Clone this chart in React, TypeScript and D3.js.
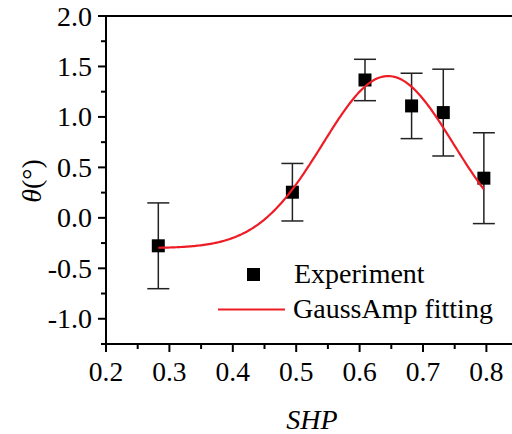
import React from "react";
import * as d3 from "d3";

const shp = [0.2825, 0.494, 0.6085, 0.682, 0.732, 0.796];
const theta = [-0.277, 0.254, 1.366, 1.109, 1.043, 0.393];
const errs = [0.425, 0.285, 0.205, 0.324, 0.43, 0.45];

// GaussAmp fit parameters: y = y0 + A*exp(-(x-xc)^2/(2w^2))
const fitY0 = -0.3;
const fitA = 1.705;
const fitXc = 0.645;
const fitW = 0.103;
const fitRange = [0.2825, 0.796];

const xTicks = [0.2, 0.3, 0.4, 0.5, 0.6, 0.7, 0.8];
const yTicks = [-1.0, -0.5, 0.0, 0.5, 1.0, 1.5, 2.0];
const xMinor = [0.25, 0.35, 0.45, 0.55, 0.65, 0.75, 0.85];
const yMinor = [-1.25, -0.75, -0.25, 0.25, 0.75, 1.25, 1.75];

const W = 512;
const H = 434;
const left = 106;
const top = 16;
const bottom = 344;

const FONT = "Liberation Serif, Times New Roman, Times, serif";

export default function App() {
  const x = d3.scaleLinear().domain([0.2, 0.85]).range([left, left + 6.5 * 63.4]);
  const y = d3.scaleLinear().domain([-1.25, 2.0]).range([bottom, top]);

  const n = 200;
  const fitPts: [number, number][] = d3.range(n + 1).map((i) => {
    const xv = fitRange[0] + ((fitRange[1] - fitRange[0]) * i) / n;
    const yv = fitY0 + fitA * Math.exp(-((xv - fitXc) ** 2) / (2 * fitW * fitW));
    return [xv, yv];
  });
  const line = d3
    .line<[number, number]>()
    .x((d) => x(d[0]))
    .y((d) => y(d[1]));

  const right = x(0.85);
  const ts = { fontFamily: FONT };

  return (
    <svg
      width={W}
      height={H}
      style={{ position: "absolute", left: 0, top: 0, background: "#fff" }}
    >
      <rect x={0} y={0} width={W} height={H} fill="#fff" />
      {/* axes */}
      <line x1={left} x2={right} y1={top} y2={top} stroke="#000" strokeWidth={2} />
      <line x1={right} x2={right} y1={top} y2={bottom} stroke="#000" strokeWidth={2} />
      <line x1={left - 1} x2={right} y1={bottom} y2={bottom} stroke="#000" strokeWidth={2} />
      <line x1={left} x2={left} y1={top - 1} y2={bottom + 1} stroke="#000" strokeWidth={2} />

      {xTicks.map((t) => (
        <g key={"xt" + t}>
          <line x1={x(t)} x2={x(t)} y1={bottom} y2={bottom + 8} stroke="#000" strokeWidth={2} />
          <text x={x(t)} y={381} fontSize={27.5} textAnchor="middle" fill="#000" style={ts}>
            {t.toFixed(1)}
          </text>
        </g>
      ))}
      {xMinor.map((t) => (
        <line key={"xm" + t} x1={x(t)} x2={x(t)} y1={bottom} y2={bottom + 5} stroke="#000" strokeWidth={2} />
      ))}
      {yTicks.map((t) => (
        <g key={"yt" + t}>
          <line x1={left - 8} x2={left} y1={y(t)} y2={y(t)} stroke="#000" strokeWidth={2} />
          <text x={92} y={y(t) + 9.5} fontSize={28} textAnchor="end" fill="#000" style={ts}>
            {t.toFixed(1)}
          </text>
        </g>
      ))}
      {yMinor.map((t) => (
        <line key={"ym" + t} x1={left - 5} x2={left} y1={y(t)} y2={y(t)} stroke="#000" strokeWidth={2} />
      ))}

      {/* axis titles */}
      <text x={312} y={429} fontSize={28} fontStyle="italic" textAnchor="middle" fill="#000" style={ts}>
        SHP
      </text>
      <text
        transform={`translate(41, ${181}) rotate(-90)`}
        fontSize={28}
        textAnchor="middle"
        fill="#000"
        style={ts}
      >
        <tspan fontStyle="italic">θ</tspan>
        <tspan>(°)</tspan>
      </text>

      {/* error bars */}
      {shp.map((xv, i) => (
        <g key={"e" + i} stroke="#222" strokeWidth={1.5}>
          <line x1={x(xv)} x2={x(xv)} y1={y(theta[i] + errs[i])} y2={y(theta[i] - errs[i])} />
          <line x1={x(xv) - 11} x2={x(xv) + 11} y1={y(theta[i] + errs[i])} y2={y(theta[i] + errs[i])} />
          <line x1={x(xv) - 11} x2={x(xv) + 11} y1={y(theta[i] - errs[i])} y2={y(theta[i] - errs[i])} />
        </g>
      ))}
      {/* squares */}
      {shp.map((xv, i) => (
        <rect key={"s" + i} x={x(xv) - 6.5} y={y(theta[i]) - 6.5} width={13} height={13} fill="#000" />
      ))}
      {/* fit curve */}
      <path d={line(fitPts) || ""} fill="none" stroke="#ee1c25" strokeWidth={2.2} />

      {/* legend */}
      <rect x={247} y={268} width={13} height={13} fill="#000" />
      <text x={294} y={283} fontSize={28} fill="#000" style={ts}>
        Experiment
      </text>
      <line x1={218} x2={285} y1={309.5} y2={309.5} stroke="#ee1c25" strokeWidth={2.2} />
      <text x={293} y={318} fontSize={28} fill="#000" style={ts}>
        GaussAmp fitting
      </text>
    </svg>
  );
}
